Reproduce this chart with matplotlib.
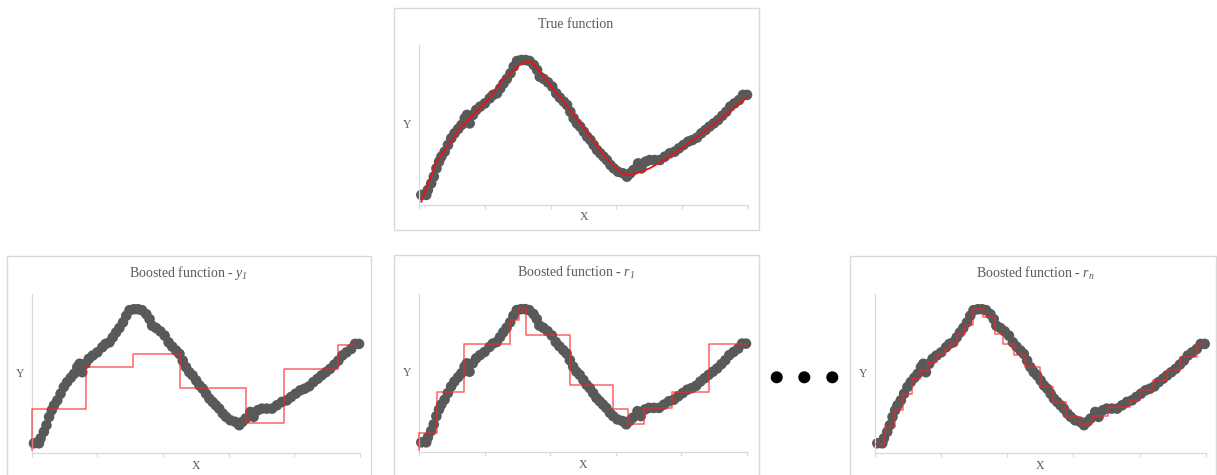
import numpy as np
import matplotlib.pyplot as plt
from matplotlib.patches import Rectangle, Circle

plt.rcParams['font.family'] = ['Liberation Serif', 'DejaVu Serif']
plt.rcParams['mathtext.fontset'] = 'custom'
plt.rcParams['mathtext.rm'] = 'Liberation Serif:italic'
plt.rcParams['mathtext.it'] = 'Liberation Serif:italic'

# noisy samples (same in all four panels), axis units 0..100
x_pts = [0.7, 2.2, 2.7, 3.7, 4.5, 5.3, 6.1, 6.8, 7.8, 8.8, 9.8, 10.8, 11.9, 12.9,
         13.9, 14.6, 15.4, 16.4, 17.4, 18.6, 20.0, 21.5, 22.5, 23.7, 24.7, 25.7,
         26.7, 27.8, 28.8, 29.8, 31.1, 32.4, 33.6, 34.9, 35.9, 36.7, 37.9, 39.2,
         40.5, 41.7, 42.8, 44.0, 45.0, 46.0, 47.0, 48.0, 49.0, 50.1, 51.1, 52.1,
         53.1, 54.1, 55.1, 56.1, 57.1, 58.2, 59.2, 60.5, 62.0, 63.2, 64.2, 65.2,
         66.6, 67.6, 68.9, 70.1, 71.6, 73.2, 74.7, 76.2, 77.7, 79.0, 80.4, 81.8,
         83.1, 84.5, 85.8, 87.1, 88.3, 89.6, 90.9, 92.2, 93.4, 94.6, 95.9, 97.3,
         98.5, 99.7]
y_pts = [6.3, 6.3, 9.4, 13.5, 17.7, 22.9, 27.1, 30.2, 33.3, 37.5, 41.7, 44.8, 47.5, 50.0,
         54.2, 56.3, 51.0, 56.3, 59.4, 61.5, 63.5, 66.7, 68.8, 69.8, 72.9, 76.0,
         78.8, 82.3, 86.5, 90.0, 90.6, 90.6, 90.0, 87.5, 84.4, 80.2, 78.8, 76.7,
         74.0, 69.8, 67.1, 64.6, 62.5, 58.3, 54.2, 51.0, 49.0, 45.8, 42.7, 40.6,
         37.5, 34.4, 32.3, 30.2, 28.1, 25.0, 22.9, 20.8, 19.8, 17.7, 19.8, 21.9,
         26.0, 22.9, 27.1, 28.1, 28.1, 28.1, 30.2, 32.3, 33.3, 35.4, 37.5, 39.6,
         40.6, 42.1, 44.8, 46.9, 49.0, 51.0, 53.1, 55.8, 58.3, 61.5, 63.5, 65.6,
         68.8, 68.8]

# smooth true function (top panel)
x_true = [0.7, 5.3, 12.4, 20.5, 25.5, 30.6, 32.6, 34.7, 36.7, 40.7, 44.8, 50.9,
          56.9, 61.0, 63.5, 66.1, 70.1, 76.2, 83.3, 89.4, 95.4, 100.0]
y_true = [2.1, 27.1, 47.9, 64.6, 78.1, 87.5, 89.6, 88.5, 83.3, 72.9, 62.5, 45.8,
          29.2, 20.8, 18.8, 19.8, 22.9, 30.2, 40.6, 50.0, 60.4, 67.7]

# boosted step fits: bin edges, level per bin, starting value at x=0
y1_edges = [0, 16.4, 30.9, 45.1, 65.3, 77.0, 93.4, 98.5]
y1_levels = [27.9, 54.5, 62.5, 40.9, 19.3, 52.8, 68.1]
y1_start = 2.1

r1_edges = [0, 5.6, 13.7, 27.6, 30.5, 32.5, 45.9, 59.1, 63.8, 68.5, 77.2, 88.4, 99.3]
r1_levels = [12.0, 38.4, 68.4, 83.8, 91.6, 74.3, 42.6, 27.2, 17.7, 28.3, 38.4, 68.4]
r1_start = 1.5

rn_edges = [0, 3.0, 6.0, 8.6, 11.1, 13.6, 16.1, 18.6, 21.2, 22.7, 24.7, 27.2, 29.7,
            32.8, 36.3, 38.8, 42.0, 45.4, 49.9, 53.9, 57.9, 62.0, 65.5, 70.6, 77.1,
            80.1, 84.2, 88.2, 92.2, 97.3, 99.3]
rn_levels = [5.7, 16.6, 27.5, 37.5, 47.0, 52.2, 57.4, 61.6, 65.8, 69.0, 75.3, 80.5,
             91.0, 85.7, 75.3, 69.0, 61.6, 54.3, 41.7, 32.3, 22.8, 18.7, 23.3, 29.1,
             33.3, 39.6, 45.9, 52.2, 60.6, 68.6]
rn_start = 5.7

x_ticks = [0, 20, 40, 60, 80, 100]


def step_xy(edges, levels, start):
    xs = np.concatenate([[edges[0]], np.repeat(edges, 2)[1:-1]])
    ys = np.concatenate([[start], np.repeat(levels, 2)])
    return xs, ys


W, H = 1217, 475
fig = plt.figure(figsize=(W / 100, H / 100), dpi=100)

# pixel-space canvas for boxes, titles and the dots
bg = fig.add_axes([0, 0, 1, 1])
bg.set_xlim(0, W)
bg.set_ylim(H, 0)
bg.axis('off')

border = '#d9d9d9'
txt = '#595959'

panels = [
    # box (x0, y0, x1, y1), axes (x0, y0, x1, y1), title pos, title, steps
    ((394.3, 8, 758.7, 230.3), (419, 45, 748, 205), (576, 24), 'True function', None),
    ((7.3, 256.3, 371.3, 490), (31.7, 294.3, 360, 453.3), (188, 273),
     r'Boosted function - $y_1$', (y1_edges, y1_levels, y1_start)),
    ((394.3, 255, 758.7, 490), (419, 294.3, 747, 452.3), (576, 272),
     r'Boosted function - $r_1$', (r1_edges, r1_levels, r1_start)),
    ((850.3, 256.3, 1215.7, 490), (875, 294.3, 1205.7, 453.3), (1035, 273),
     r'Boosted function - $r_n$', (rn_edges, rn_levels, rn_start)),
]

for box, axb, tpos, title, steps in panels:
    bg.add_patch(Rectangle((box[0], box[1]), box[2] - box[0], box[3] - box[1],
                           fill=False, edgecolor=border, lw=1.0))
    bg.text(tpos[0], tpos[1], title, ha='center', va='center', fontsize=10, color=txt)

    ax = fig.add_axes([axb[0] / W, 1 - axb[3] / H, (axb[2] - axb[0]) / W, (axb[3] - axb[1]) / H])
    ax.set_facecolor('none')
    ax.set_xlim(0, 100)
    ax.set_ylim(0, 100)
    for s in ['top', 'right']:
        ax.spines[s].set_visible(False)
    for s in ['left', 'bottom']:
        ax.spines[s].set_color(border)
        ax.spines[s].set_linewidth(0.9)
    ax.set_xticks(x_ticks)
    ax.set_xticklabels([])
    ax.set_yticks([])
    ax.tick_params(axis='x', length=3, color=border, width=0.9)

    ax.scatter(x_pts, y_pts, s=58, color='#595959', edgecolors='none', clip_on=False, zorder=2)
    if steps is None:
        ax.plot(x_true, y_true, color='#e8141b', lw=1.3, zorder=3)
    else:
        xs, ys = step_xy(*steps)
        ax.plot(xs, ys, color='#ff2020', lw=1.1, alpha=0.7, zorder=3, clip_on=False)

    ax.text(-0.022, 0.5, 'Y', transform=ax.transAxes, ha='right', va='center',
            fontsize=8.5, color=txt)
    ax.text(0.5, -0.04, 'X', transform=ax.transAxes, ha='center', va='top',
            fontsize=8.5, color=txt)

# ellipsis between the middle and right panels
for cx in [776.7, 804.3, 832.3]:
    bg.add_patch(Circle((cx, 377.3), 5.3, color='black'))

fig.savefig('out.png', dpi=100)
